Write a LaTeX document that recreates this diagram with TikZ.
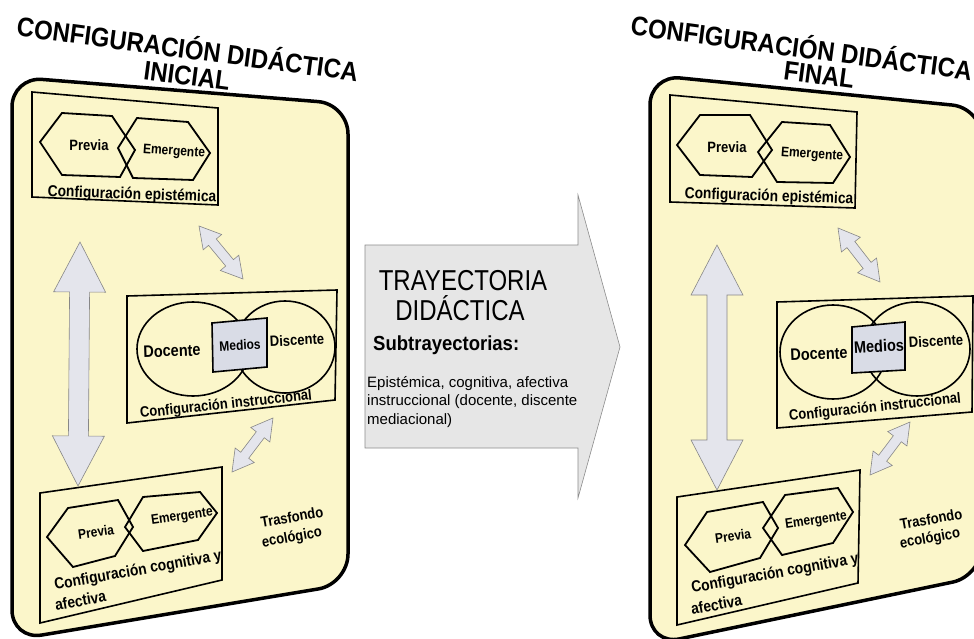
\documentclass[tikz,border=0pt]{standalone}
\usepackage{fontspec}
\setmainfont{Liberation Sans}
\usetikzlibrary{calc}
\definecolor{panel}{RGB}{251,246,202}
\definecolor{fatfill}{RGB}{228,229,236}
\definecolor{fatline}{RGB}{135,135,135}
\definecolor{bigfill}{RGB}{230,230,230}
\definecolor{medfill}{RGB}{217,220,230}
\newcommand\fatdouble[5]{%
  \path ($(#1)!#3!(#2)$) coordinate (fa-p) ($(#2)!#3!(#1)$) coordinate (fa-q);
  \filldraw[fatarrow] (#1) -- ($(fa-p)!#4!90:(#1)$) -- ($(fa-p)!#5!90:(#1)$)
    -- ($(fa-q)!#5!-90:(#2)$) -- ($(fa-q)!#4!-90:(#2)$) -- (#2)
    -- ($(fa-q)!#4!90:(#2)$) -- ($(fa-q)!#5!90:(#2)$)
    -- ($(fa-p)!#5!-90:(#1)$) -- ($(fa-p)!#4!-90:(#1)$) -- cycle;}
\begin{document}
\begin{tikzpicture}[x=1pt,y=-1pt,
  panelbox/.style={line width=3.5pt, draw=black, fill=panel, rounded corners=30pt},
  cfgbox/.style={line width=1.6pt, draw=black, line join=miter},
  hexa/.style={line width=1.8pt, draw=black, line join=miter},
  ell/.style={line width=1.6pt, draw=black},
  medbox/.style={line width=1.6pt, draw=black, fill=medfill},
  fatarrow/.style={fill=fatfill, draw=fatline, line width=0.6pt, line join=miter},
  bigarrow/.style={fill=bigfill, draw=black!45, line width=0.6pt, line join=miter},
  lbl/.style={inner sep=0pt, font=\bfseries\fontsize{13}{15}\selectfont, rotate=#1, yscale=1.15},
  lbl/.default=0,
  lblcfg/.style={inner sep=0pt, font=\bfseries\fontsize{13.8}{15}\selectfont, rotate=#1, yscale=1.15},
  lblcfg/.default=0,
  lblsm/.style={inner sep=0pt, font=\bfseries\fontsize{12}{14}\selectfont, rotate=#1, yscale=1.15},
  lblsm/.default=0,
  lblbig/.style={inner sep=0pt, font=\bfseries\fontsize{14.5}{16}\selectfont, rotate=#1, yscale=1.15},
  lblbig/.default=0,
  ttl/.style={inner sep=0pt, font=\bfseries\fontsize{24}{26}\selectfont, rotate=-7.6, yscale=1.12},
  ctr/.style={inner sep=0pt, font=\fontsize{24}{26}\selectfont, yscale=1.2}
]
\useasboundingbox (0,0) rectangle (974,639);
\clip (0,0) rectangle (974,639);

% ---------- left panel ----------
\filldraw[panelbox] (12,77) -- (348,104) -- (348,584) -- (12,640) -- cycle;
\node[ttl] (ltitle) at (188,47) {CONFIGURACIÓN DIDÁCTICA};
\node[ttl] (ltitle2) at (187,76) {INICIAL};

\draw[cfgbox] (32,92) -- (218,108) -- (218,205) -- (32,197) -- cycle;
\draw[hexa] (40,142) -- (62,113) -- (112,116) -- (135,150) -- (120,177) -- (62,175) -- cycle;
\draw[hexa] (118,148) -- (137,118) -- (188,122) -- (210,153) -- (193,180) -- (133,178) -- cycle;
\node[lbl] (lep) at (89,145) {Previa};
\node[lblsm=-4] (lee) at (174,152) {Emergente};
\node[lblcfg=-2] (lec) at (132,195) {Configuración epistémica};

\draw[cfgbox] (127,296) -- (337,290) -- (335,400) -- (127,423) -- cycle;
\draw[ell] (193,349) ellipse [x radius=56, y radius=47];
\draw[ell] (285,347) ellipse [x radius=50, y radius=46];
\filldraw[medbox] (212,323) -- (267,318) -- (267,367) -- (213,372) -- cycle;
\node[lblbig=2] (lid) at (172,351) {Docente};
\node[lblsm=3] (lim) at (240,345) {Medios};
\node[lbl=3] (lis) at (297,340) {Discente};
\node[lbl=6] (lic) at (226,405) {Configuración instruccional};

\draw[cfgbox] (40,493) -- (222,467) -- (222,580) -- (40,623) -- cycle;
\draw[hexa] (47,537) -- (68,508) -- (118,500) -- (133,527) -- (115,556) -- (73,567) -- cycle;
\draw[hexa] (125,527) -- (143,497) -- (200,492) -- (217,513) -- (198,540) -- (143,551) -- cycle;
\node[lblsm=8] (lcp) at (96,532) {Previa};
\node[lblsm=8] (lce) at (182,517) {Emergente};
\node[lblcfg=10] (lcc) at (138,571) {Configuración cognitiva y};
\node[lblcfg=10, anchor=west] (lca) at (55,605) {afectiva};
\node[lbl=10] (ltf) at (292,517) {Trasfondo};
\node[lbl=10] (lte) at (292,538) {ecológico};

\coordinate (la1) at (80,242); \coordinate (la2) at (78,486);
\coordinate (lb1) at (199,226); \coordinate (lb2) at (243,279);
\coordinate (lc1) at (273,418); \coordinate (lc2) at (232,472);
\fatdouble{la1}{la2}{50pt}{26pt}{10pt}
\fatdouble{lb1}{lb2}{21pt}{12pt}{5pt}
\fatdouble{lc1}{lc2}{21pt}{12pt}{5pt}

% ---------- central arrow ----------
\filldraw[bigarrow] (365,245) -- (578,245) -- (578,195) -- (620,347) -- (578,498) -- (578,448) -- (365,448) -- cycle;
\node[ctr] (ttray) at (463,281) {TRAYECTORIA};
\node[ctr] (tdid) at (460,308) {DIDÁCTICA};
\node[inner sep=0pt, anchor=west, font=\bfseries\fontsize{18.5}{20}\selectfont, yscale=1.1] (tsub) at (373,345) {Subtrayectorias:};
\node[inner sep=0pt, anchor=north west, align=left, font=\fontsize{15}{18.5}\selectfont] (tlist) at (367,376)
  {Epistémica, cognitiva, afectiva\\instruccional (docente, discente\\mediacional)};

% ---------- right panel ----------
\filldraw[panelbox] (650,75) -- (982,108) -- (982,576) -- (650,645) -- cycle;
\node[ttl] (rtitle) at (802,46) {CONFIGURACIÓN DIDÁCTICA};
\node[ttl] (rtitle2) at (819,75) {FINAL};

\draw[cfgbox] (670,95) -- (857,112) -- (855,208) -- (670,202) -- cycle;
\draw[hexa] (677,145) -- (700,115) -- (750,115) -- (772,150) -- (752,177) -- (700,175) -- cycle;
\draw[hexa] (758,152) -- (782,122) -- (830,125) -- (850,157) -- (833,183) -- (777,182) -- cycle;
\node[lbl] (rep) at (727,147) {Previa};
\node[lblsm=-4] (ree) at (812,155) {Emergente};
\node[lblcfg=-2] (rec) at (769,197) {Configuración epistémica};

\draw[cfgbox] (777,302) -- (973,296) -- (972,412) -- (777,428) -- cycle;
\draw[ell] (833,352) ellipse [x radius=53, y radius=47];
\draw[ell] (917,349) ellipse [x radius=53, y radius=47];
\filldraw[medbox] (852,327) -- (905,322) -- (905,370) -- (852,373) -- cycle;
\node[lblbig=2] (rid) at (819,354) {Docente};
\node[lblbig=3] (rim) at (879,346) {Medios};
\node[lbl=3] (ris) at (936,341) {Discente};
\node[lbl=6] (ric) at (875,408) {Configuración instruccional};

\draw[cfgbox] (677,497) -- (860,470) -- (858,583) -- (677,625) -- cycle;
\draw[hexa] (685,545) -- (707,512) -- (763,502) -- (778,528) -- (760,558) -- (710,572) -- cycle;
\draw[hexa] (763,528) -- (785,495) -- (838,488) -- (853,512) -- (833,543) -- (782,555) -- cycle;
\node[lblsm=8] (rcp) at (733,536) {Previa};
\node[lblsm=8] (rce) at (816,521) {Emergente};
\node[lblcfg=10] (rcc) at (775,574) {Configuración cognitiva y};
\node[lblcfg=10, anchor=west] (rca) at (691,609) {afectiva};
\node[lbl=10] (rtf) at (931,519) {Trasfondo};
\node[lbl=10] (rte) at (930,539) {ecológico};

\coordinate (ra1) at (717,245); \coordinate (ra2) at (717,490);
\coordinate (rb1) at (838,228); \coordinate (rb2) at (880,282);
\coordinate (rc1) at (910,422); \coordinate (rc2) at (870,475);
\fatdouble{ra1}{ra2}{50pt}{26pt}{10pt}
\fatdouble{rb1}{rb2}{21pt}{12pt}{5pt}
\fatdouble{rc1}{rc2}{21pt}{12pt}{5pt}
\end{tikzpicture}
\end{document}
